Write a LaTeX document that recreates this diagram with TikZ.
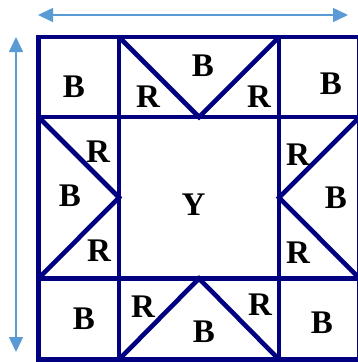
\documentclass[tikz,border=0pt]{standalone}
\usepackage{fontspec}
\setmainfont{Liberation Serif}
\usepackage{tikz}
\usetikzlibrary{arrows.meta}
\definecolor{quiltNavy}{HTML}{000080}
\definecolor{quiltSky}{HTML}{5B9BD5}

\begin{document}
\begin{tikzpicture}[x=1pt,y=-1pt]
  \tikzset{seam/.style={draw=quiltNavy,line width=4.6pt,line join=miter},
    piece/.style={inner sep=0pt,anchor=center,font=\bfseries\fontsize{33}{33}\selectfont},
    span/.style={quiltSky,line width=1.5pt,{Triangle[length=15pt,width=14pt]}-{Triangle[length=15pt,width=14pt]}}}
  \useasboundingbox (0,0) rectangle (357,362);
  % block outline and grid
  \draw[seam] (38.5,37) rectangle (359.5,359.5);
  \draw[seam] (119,37) -- (119,359.5);
  \draw[seam] (279,37) -- (279,359.5);
  \draw[seam] (38.5,117) -- (359.5,117);
  \draw[seam] (38.5,278.5) -- (359.5,278.5);
  % flying geese
  \draw[seam] (119,37) -- (199,117) -- (279,37);
  \draw[seam] (38.5,117) -- (119,197.5) -- (38.5,278.5);
  \draw[seam] (359.5,117) -- (279,197.5) -- (359.5,278.5);
  \draw[seam] (119,359.5) -- (199,278.5) -- (279,359.5);
  % size arrows
  \coordinate (wideL) at (38,15);
  \coordinate (wideR) at (348,15);
  \coordinate (tallT) at (16,37);
  \coordinate (tallB) at (16,352);
  \draw[span] (wideL) -- (wideR);
  \draw[span] (tallT) -- (tallB);
  % patches
  \node[piece] (cornerNW) at (74,87) {B};
  \node[piece] (topRedL) at (148,97) {R};
  \node[piece] (topBlue) at (203,66) {B};
  \node[piece] (topRedR) at (259,97) {R};
  \node[piece] (cornerNE) at (331,84) {B};
  \node[piece] (leftRedT) at (98,152) {R};
  \node[piece] (leftBlue) at (70,196) {B};
  \node[piece] (leftRedB) at (99,251) {R};
  \node[piece] (centre) at (193.5,205) {Y};
  \node[piece] (rightRedT) at (298,155) {R};
  \node[piece] (rightBlue) at (336,198) {B};
  \node[piece] (rightRedB) at (298,253) {R};
  \node[piece] (cornerSW) at (84,319) {B};
  \node[piece] (botRedL) at (143,307) {R};
  \node[piece] (botBlue) at (204,332) {B};
  \node[piece] (botRedR) at (260,305) {R};
  \node[piece] (cornerSE) at (322,323) {B};
\end{tikzpicture}
\end{document}
